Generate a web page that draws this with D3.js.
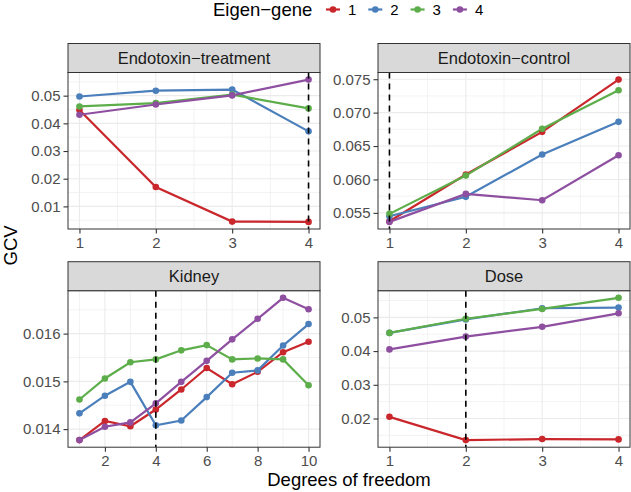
<!DOCTYPE html>
<html>
<head>
<meta charset="utf-8">
<script src="https://cdnjs.cloudflare.com/ajax/libs/d3/7.8.5/d3.min.js"></script>
<style>
  body { margin: 0; background: #fff; }
  svg { font-family: "Liberation Sans", Arial, Helvetica, sans-serif; }
</style>
</head>
<body>
<div id="chart"></div>
<script>
// eigen-genes (legend order) and colours
const genes = ['1', '2', '3', '4'];
const geneColors = ['#C9272C', '#4A7FBB', '#5DAE4B', '#8E4FA0'];

// Endotoxin-treatment, df 1..4
const treatDf = [1, 2, 3, 4];
const treatGcv = [
  [0.0448, 0.0170, 0.0045, 0.0044],
  [0.0497, 0.0518, 0.0522, 0.0371],
  [0.0461, 0.0473, 0.0504, 0.0454],
  [0.0431, 0.0468, 0.0501, 0.0558]
];

// Endotoxin-control, df 1..4
const controlDf = [1, 2, 3, 4];
const controlGcv = [
  [0.05374, 0.06073, 0.06712, 0.07494],
  [0.05449, 0.05740, 0.06373, 0.06862],
  [0.05485, 0.06058, 0.06758, 0.07335],
  [0.05365, 0.05784, 0.05689, 0.06362]
];

// Kidney, df 1..10
const kidneyDf = [1, 2, 3, 4, 5, 6, 7, 8, 9, 10];
const kidneyGcv = [
  [0.01377, 0.01417, 0.01406, 0.01441, 0.01483, 0.01528, 0.01494, 0.01520, 0.01561, 0.01583],
  [0.01433, 0.01470, 0.01499, 0.01408, 0.01418, 0.01467, 0.01518, 0.01523, 0.01575, 0.01620],
  [0.01462, 0.01506, 0.01540, 0.01546, 0.01565, 0.01576, 0.01546, 0.01548, 0.01546, 0.01492],
  [0.01377, 0.01405, 0.01414, 0.01454, 0.01499, 0.01543, 0.01588, 0.01631, 0.01675, 0.01651]
];

// Dose, df 1..4
const doseDf = [1, 2, 3, 4];
const doseGcv = [
  [0.0205, 0.0136, 0.0139, 0.0138],
  [0.0454, 0.0494, 0.0527, 0.0529],
  [0.0454, 0.0496, 0.0525, 0.0558],
  [0.0405, 0.0443, 0.0472, 0.0512]
];

// chosen df (dashed line) per facet
const chosenDf = [4, 1, 4, 2];

// tick labels
const treatYTicks = [0.01, 0.02, 0.03, 0.04, 0.05];
const controlYTicks = [0.055, 0.060, 0.065, 0.070, 0.075];
const kidneyYTicks = [0.014, 0.015, 0.016];
const doseYTicks = [0.02, 0.03, 0.04, 0.05];
const smallXTicks = [1, 2, 3, 4];
const kidneyXTicks = [2, 4, 6, 8, 10];

const facets = [
  { title: 'Endotoxin\u2212treatment', df: treatDf, gcv: treatGcv, yTicks: treatYTicks, xTicks: smallXTicks, fmt: '.2f', vline: chosenDf[0], col: 0, row: 0 },
  { title: 'Endotoxin\u2212control', df: controlDf, gcv: controlGcv, yTicks: controlYTicks, xTicks: smallXTicks, fmt: '.3f', vline: chosenDf[1], col: 1, row: 0 },
  { title: 'Kidney', df: kidneyDf, gcv: kidneyGcv, yTicks: kidneyYTicks, xTicks: kidneyXTicks, fmt: '.3f', vline: chosenDf[2], col: 0, row: 1 },
  { title: 'Dose', df: doseDf, gcv: doseGcv, yTicks: doseYTicks, xTicks: smallXTicks, fmt: '.2f', vline: chosenDf[3], col: 1, row: 1 }
];

const W = 631, H = 492;
const colX = [68, 378];
const panelW = 252;
const rowY = [43.5, 261.7];  // strip top
const stripH = 29;
const panelH = 156.5;

const svg = d3.select('#chart').append('svg')
  .attr('width', W).attr('height', H);

// expand range 5% like ggplot
function expand(ext) {
  const d = (ext[1] - ext[0]) * 0.05;
  return [ext[0] - d, ext[1] + d];
}
// midpoints between breaks, one extra on each side, kept inside the domain
function minors(br, dom) {
  const step = br[1] - br[0];
  const out = [];
  const all = [br[0] - step].concat(br, [br[br.length - 1] + step]);
  for (let i = 0; i < all.length - 1; i++) {
    const m = (all[i] + all[i + 1]) / 2;
    if (m >= dom[0] && m <= dom[1]) out.push(m);
  }
  return out;
}

facets.forEach(f => {
  const x0 = colX[f.col];
  const top = rowY[f.row];
  const g = svg.append('g').attr('transform', `translate(${x0},${top + stripH})`);

  const xDom = expand(d3.extent(f.df));
  const yDom = expand(d3.extent(f.gcv.flat()));
  const x = d3.scaleLinear().domain(xDom).range([0, panelW]);
  const y = d3.scaleLinear().domain(yDom).range([panelH, 0]);

  // strip
  svg.append('rect')
    .attr('x', x0).attr('y', top).attr('width', panelW).attr('height', stripH)
    .attr('fill', '#D9D9D9').attr('stroke', '#333333').attr('stroke-width', 1);
  svg.append('text')
    .attr('x', x0 + panelW / 2).attr('y', top + stripH / 2 + 5.5)
    .attr('text-anchor', 'middle').attr('font-size', 16.5).attr('fill', '#1A1A1A')
    .text(f.title);

  // grid
  const xMinor = minors(f.xTicks, xDom);
  const yMinor = minors(f.yTicks, yDom);
  g.selectAll('.ymin').data(yMinor).join('line')
    .attr('x1', 0).attr('x2', panelW).attr('y1', d => y(d)).attr('y2', d => y(d))
    .attr('stroke', '#EBEBEB').attr('stroke-width', 0.6);
  g.selectAll('.xmin').data(xMinor).join('line')
    .attr('y1', 0).attr('y2', panelH).attr('x1', d => x(d)).attr('x2', d => x(d))
    .attr('stroke', '#EBEBEB').attr('stroke-width', 0.6);
  g.selectAll('.ymaj').data(f.yTicks).join('line')
    .attr('x1', 0).attr('x2', panelW).attr('y1', d => y(d)).attr('y2', d => y(d))
    .attr('stroke', '#EBEBEB').attr('stroke-width', 1.1);
  g.selectAll('.xmaj').data(f.xTicks).join('line')
    .attr('y1', 0).attr('y2', panelH).attr('x1', d => x(d)).attr('x2', d => x(d))
    .attr('stroke', '#EBEBEB').attr('stroke-width', 1.1);

  // lines
  const line = d3.line().x((d, i) => x(f.df[i])).y(d => y(d));
  f.gcv.forEach((s, k) => {
    g.append('path').attr('d', line(s))
      .attr('fill', 'none').attr('stroke', geneColors[k]).attr('stroke-width', 2.2);
  });
  // points
  f.gcv.forEach((s, k) => {
    g.selectAll(null).data(s).join('circle')
      .attr('cx', (d, i) => x(f.df[i])).attr('cy', d => y(d)).attr('r', 3.3)
      .attr('fill', geneColors[k]);
  });

  // chosen df
  g.append('line')
    .attr('x1', x(f.vline)).attr('x2', x(f.vline)).attr('y1', 0).attr('y2', panelH)
    .attr('stroke', '#000').attr('stroke-width', 1.6).attr('stroke-dasharray', '6,5');

  // border
  g.append('rect').attr('width', panelW).attr('height', panelH)
    .attr('fill', 'none').attr('stroke', '#333333').attr('stroke-width', 1);

  // axes
  const yAxis = g.append('g')
    .call(d3.axisLeft(y).tickValues(f.yTicks).tickFormat(d3.format(f.fmt)).tickSize(4.5).tickPadding(3));
  const xAxis = g.append('g').attr('transform', `translate(0,${panelH})`)
    .call(d3.axisBottom(x).tickValues(f.xTicks).tickFormat(d3.format('d')).tickSize(4.5).tickPadding(4));
  [yAxis, xAxis].forEach(a => {
    a.select('.domain').remove();
    a.selectAll('.tick line').attr('stroke', '#333333').attr('stroke-width', 1.1);
    a.selectAll('.tick text').attr('fill', '#4D4D4D').attr('font-size', 15)
      .attr('font-family', '"Liberation Sans", Arial, Helvetica, sans-serif');
  });
});

// axis titles
svg.append('text')
  .attr('x', (colX[0] + colX[1] + panelW) / 2).attr('y', 486)
  .attr('text-anchor', 'middle').attr('font-size', 18.5).attr('fill', '#000')
  .text('Degrees of freedom');
svg.append('text')
  .attr('transform', `translate(17,${(rowY[0] + rowY[1] + stripH + panelH) / 2}) rotate(-90)`)
  .attr('text-anchor', 'middle').attr('font-size', 18.5).attr('fill', '#000')
  .text('GCV');

// legend
const leg = svg.append('g');
leg.append('text').attr('x', 213).attr('y', 16).attr('font-size', 18.5).attr('fill', '#000')
  .text('Eigen\u2212gene');
genes.forEach((gname, i) => {
  const cx = 333 + i * 42.3;
  leg.append('line').attr('x1', cx - 7).attr('x2', cx + 7).attr('y1', 9.5).attr('y2', 9.5)
    .attr('stroke', geneColors[i]).attr('stroke-width', 2.2);
  leg.append('circle').attr('cx', cx).attr('cy', 9.5).attr('r', 3.3).attr('fill', geneColors[i]);
  leg.append('text').attr('x', cx + 15).attr('y', 15).attr('font-size', 15).attr('fill', '#000')
    .text(gname);
});
</script>
</body>
</html>
